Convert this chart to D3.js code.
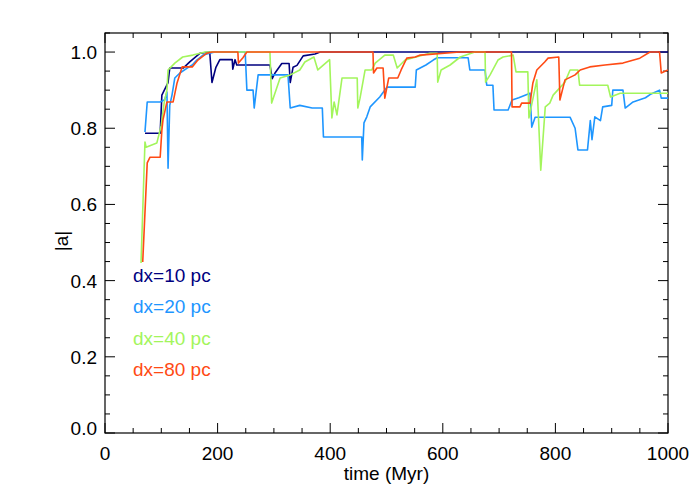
<!DOCTYPE html>
<html><head><meta charset="utf-8">
<script src="https://cdn.jsdelivr.net/npm/d3@7"></script>
<style>body{margin:0;background:#fff}svg text{font-family:"Liberation Sans",Arial,sans-serif}</style>
</head><body><svg id="c" width="700" height="500"></svg>
<script>
const seriesNames = ["dx=10 pc","dx=20 pc","dx=40 pc","dx=80 pc"];
const seriesColors = ["#00007f","#1e96ff","#a3f55c","#ff4a14"];
const xTicks = [0,200,400,600,800,1000];
const yTicks = [0.0,0.2,0.4,0.6,0.8,1.0];

const dx10 = [[71,0.787],[98,0.787],[101,0.887],[112,0.92],[115,0.958],[139,0.958],[151,0.975],[169,0.997],[186,1.0],[190,0.92],[197,0.96],[204,0.98],[226,0.98],[227,0.955],[231,0.98],[234,0.966],[293,0.966],[297,0.93],[302,0.945],[314,0.97],[327,0.97],[329,0.92],[334,0.96],[341,0.965],[352,0.99],[373,0.995],[382,1.0],[1000,1.0]];
const dx20 = [[71,0.79],[75,0.869],[98,0.869],[106,0.875],[110,0.895],[112,0.695],[115,0.86],[119,0.887],[124,0.932],[133,0.945],[146,0.958],[155,0.966],[163,0.979],[174,0.992],[195,1.0],[249,1.0],[252,0.9],[263,0.9],[265,0.853],[272,0.94],[325,0.94],[329,0.853],[346,0.86],[368,0.853],[386,0.853],[388,0.777],[456,0.777],[457,0.717],[460,0.814],[465,0.83],[471,0.856],[488,0.882],[501,0.908],[551,0.908],[553,0.953],[570,0.966],[583,0.979],[590,0.985],[645,0.985],[648,0.953],[675,0.953],[678,0.913],[689,0.913],[691,0.848],[716,0.848],[723,0.874],[735,0.88],[755,0.892],[758,0.803],[764,0.829],[826,0.829],[835,0.8],[840,0.743],[857,0.743],[862,0.82],[865,0.77],[870,0.83],[880,0.82],[884,0.856],[900,0.86],[902,0.9],[920,0.9],[924,0.853],[938,0.869],[960,0.88],[970,0.89],[985,0.9],[988,0.879],[1000,0.879]];
const dx40 = [[64,0.446],[71,0.764],[73,0.75],[92,0.761],[100,0.808],[105,0.866],[110,0.9],[112,0.953],[124,0.971],[138,0.987],[156,0.992],[178,1.0],[293,1.0],[296,0.866],[311,0.932],[329,0.94],[346,0.953],[355,0.974],[371,0.987],[378,0.953],[399,0.98],[403,0.827],[407,0.869],[412,0.835],[421,0.932],[448,0.932],[449,0.853],[453,0.879],[462,0.953],[474,0.953],[480,0.971],[497,0.992],[512,0.992],[519,0.958],[533,0.979],[577,0.997],[590,0.997],[591,0.921],[597,0.953],[613,0.966],[631,0.987],[657,1.0],[675,1.0],[676,0.921],[684,0.94],[698,0.979],[707,0.987],[725,0.992],[730,0.948],[751,0.948],[753,0.827],[767,0.927],[774,0.69],[782,0.856],[790,0.866],[796,0.887],[817,0.921],[826,0.953],[840,0.953],[843,0.913],[893,0.913],[898,0.882],[915,0.892],[1000,0.892]];
const dx80 = [[67,0.449],[75,0.709],[80,0.724],[98,0.724],[101,0.795],[103,0.822],[110,0.869],[121,0.869],[128,0.919],[137,0.961],[155,0.961],[165,0.979],[181,0.997],[190,1.0],[236,1.0],[237,0.971],[245,0.985],[252,1.0],[476,1.0],[477,0.945],[483,0.958],[494,0.958],[497,0.879],[504,0.932],[520,0.932],[526,0.953],[536,0.984],[551,0.987],[560,0.992],[630,1.0],[722,1.0],[723,0.856],[737,0.856],[740,0.866],[755,0.866],[760,0.919],[767,0.953],[781,0.974],[787,0.984],[806,0.987],[808,0.874],[817,0.927],[835,0.94],[844,0.953],[861,0.961],[888,0.966],[920,0.971],[950,0.984],[968,1.0],[985,1.0],[988,0.945],[1000,0.953]];
const allSeries = [dx10, dx20, dx40, dx80];

const svg = d3.select("#c");
const L=105, R=668, T=33, B=433;
const x = d3.scaleLinear().domain([0,1000]).range([L,R]);
const y = d3.scaleLinear().domain([0,1.05]).range([B,T]);
const fs = 19;

// frame
svg.append("rect").attr("x",L).attr("y",T).attr("width",R-L).attr("height",B-T)
  .attr("fill","none").attr("stroke","#000").attr("stroke-width",1.2);

// ticks
const xMinor = d3.range(0,1001,50);
const yMinor = d3.range(0,1.0501,0.05);
const tg = svg.append("g").attr("stroke","#000").attr("stroke-width",1);
xMinor.forEach(v=>{
  const len = (v%200===0)?10:5;
  tg.append("line").attr("x1",x(v)).attr("x2",x(v)).attr("y1",B).attr("y2",B-len);
  tg.append("line").attr("x1",x(v)).attr("x2",x(v)).attr("y1",T).attr("y2",T+len);
});
yMinor.forEach(v=>{
  const major = Math.abs(Math.round(v*5)-v*5)<1e-6;
  const len = major?10:5;
  tg.append("line").attr("y1",y(v)).attr("y2",y(v)).attr("x1",L).attr("x2",L+len);
  tg.append("line").attr("y1",y(v)).attr("y2",y(v)).attr("x1",R).attr("x2",R-len);
});

// tick labels
svg.append("g").selectAll("text").data(xTicks).join("text")
  .attr("x",d=>x(d)).attr("y",B+27).attr("text-anchor","middle")
  .attr("font-size",fs).text(d=>d);
svg.append("g").selectAll("text").data(yTicks).join("text")
  .attr("x",L-8).attr("y",d=>y(d)+7-(d===0?5:0)).attr("text-anchor","end")
  .attr("font-size",fs).text(d=>d.toFixed(1));

svg.append("text").attr("x",(L+R)/2).attr("y",B+47).attr("text-anchor","middle")
  .attr("font-size",fs).text("time (Myr)");
svg.append("text").attr("transform",`translate(68,${(T+B)/2+8}) rotate(-90)`)
  .attr("text-anchor","middle").attr("font-size",fs).text("|a|");

// lines
const line = d3.line().x(d=>x(d[0])).y(d=>y(d[1]));
svg.append("clipPath").attr("id","cp").append("rect")
  .attr("x",L).attr("y",T).attr("width",R-L).attr("height",B-T);
const lg = svg.append("g").attr("clip-path","url(#cp)");
allSeries.forEach((s,i)=>{
  lg.append("path").datum(s).attr("d",line).attr("fill","none")
    .attr("stroke",seriesColors[i]).attr("stroke-width",1.6).attr("stroke-linejoin","round");
});

// legend
svg.append("g").selectAll("text").data(seriesNames).join("text")
  .attr("x",133).attr("y",(d,i)=>282+i*31.3).attr("font-size",fs)
  .attr("fill",(d,i)=>seriesColors[i]).text(d=>d);
</script></body></html>
